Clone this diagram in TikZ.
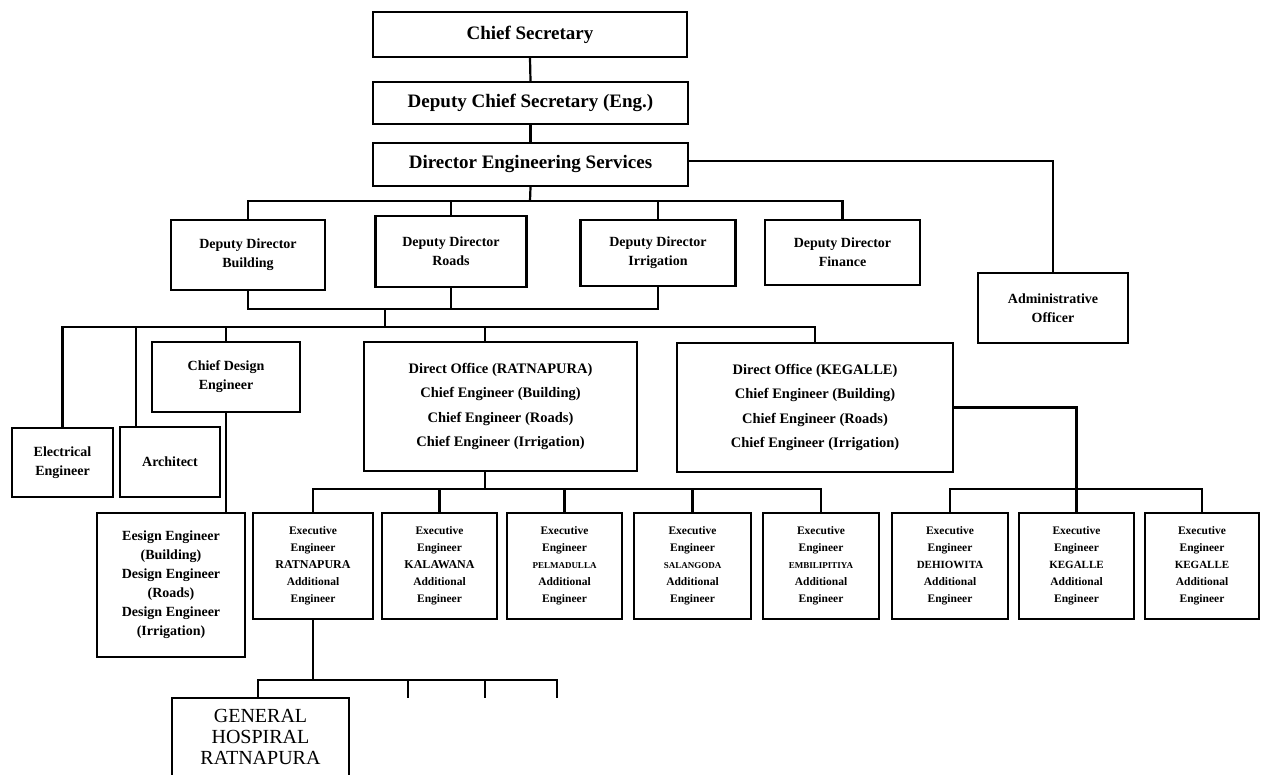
\documentclass[tikz,border=0pt]{standalone}
\usepackage{fontspec}
\setmainfont{Liberation Serif}
\begin{document}
\begin{tikzpicture}[x=1pt,y=-1pt,line width=2.2pt]
\tikzset{
  box/.style={draw,line width=2.2pt,inner sep=0pt,align=center},
  ft/.style={font=\fontsize{19}{24}\selectfont\bfseries},
  fm/.style={font=\fontsize{14}{19}\selectfont\bfseries},
  fo/.style={font=\fontsize{14.5}{24.5}\selectfont\bfseries},
  fe/.style={font=\fontsize{11.5}{17}\selectfont\bfseries},
  fg/.style={font=\fontsize{20}{21}\selectfont},
  exbox/.style={box,fe,minimum height=106},
}
\clip (0,0) rectangle (1262,775);
\fill[white] (0,0) rectangle (1262,775);

% top chain
\node[box,ft,minimum width=314,minimum height=45] (cs)  at (530,34.5) {Chief Secretary};
\node[box,ft,minimum width=315,minimum height=42] (dcs) at (530.5,103) {Deputy Chief Secretary (Eng.)};
\node[box,ft,minimum width=315,minimum height=43] (des) at (530.5,164.5) {Director Engineering Services};
\node[box,fm,minimum width=150,minimum height=70] (adm) at (1053,308) {Administrative\\Officer};

% deputy directors
\node[box,fm,minimum width=154,minimum height=70] (ddb) at (248,255) {Deputy Director\\Building};
\node[box,fm,minimum width=151,minimum height=71] (ddr) at (451,251.5) {Deputy Director\\Roads};
\node[box,fm,minimum width=155,minimum height=66] (ddi) at (658,253) {Deputy Director\\Irrigation};
\node[box,fm,minimum width=155,minimum height=65] (ddf) at (842.5,252.5) {Deputy Director\\Finance};

% third level
\node[box,fm,minimum width=148,minimum height=70] (cde) at (226,377) {Chief Design\\Engineer};
\node[box,fm,minimum width=101,minimum height=69] (ee) at (62.5,462.5) {Electrical\\Engineer};
\node[box,fm,minimum width=100,minimum height=70] (arch) at (170,462) {Architect};
\node[box,fm,minimum width=148,minimum height=144] (dsg) at (171,585) {Eesign Engineer\\(Building)\\Design Engineer\\(Roads)\\Design Engineer\\(Irrigation)};
\node[box,fo,minimum width=273,minimum height=129] (ro) at (500.5,406.5) {Direct Office (RATNAPURA)\\Chief Engineer (Building)\\Chief Engineer (Roads)\\Chief Engineer (Irrigation)};
\node[box,fo,minimum width=276,minimum height=129] (ko) at (815,407.5) {Direct Office (KEGALLE)\\Chief Engineer (Building)\\Chief Engineer (Roads)\\Chief Engineer (Irrigation)};

% executive engineers
\node[exbox,minimum width=120] (rat) at (313,566) {Executive\\Engineer\\{\fontsize{12}{17}\selectfont RATNAPURA}\\Additional\\Engineer};
\node[exbox,minimum width=115] (kal) at (439.5,566) {Executive\\Engineer\\{\fontsize{12}{17}\selectfont KALAWANA}\\Additional\\Engineer};
\node[exbox,minimum width=115] (pel) at (564.5,566) {Executive\\Engineer\\{\fontsize{9}{17}\selectfont PELMADULLA}\\Additional\\Engineer};
\node[exbox,minimum width=117] (sal) at (692.5,566) {Executive\\Engineer\\{\fontsize{9}{17}\selectfont SALANGODA}\\Additional\\Engineer};
\node[exbox,minimum width=116] (emb) at (821,566) {Executive\\Engineer\\{\fontsize{9}{17}\selectfont EMBILIPITIYA}\\Additional\\Engineer};
\node[exbox,minimum width=116] (deh) at (950,566) {Executive\\Engineer\\{\fontsize{11}{17}\selectfont DEHIOWITA}\\Additional\\Engineer};
\node[exbox,minimum width=115] (kg1) at (1076.5,566) {Executive\\Engineer\\{\fontsize{11}{17}\selectfont KEGALLE}\\Additional\\Engineer};
\node[exbox,minimum width=114] (kg2) at (1202,566) {Executive\\Engineer\\{\fontsize{11}{17}\selectfont KEGALLE}\\Additional\\Engineer};

% hospital
\node[box,minimum width=177,minimum height=110,anchor=north] (gh) at (260.5,697) {};
\node[fg,align=center,inner sep=0pt] (ghl) at (260.5,737) {GENERAL\\HOSPIRAL\\RATNAPURA};

% bus coordinates
\coordinate (b1) at (530,201);
\coordinate (b2) at (385,309);
\coordinate (b3) at (385,327);
\coordinate (b4) at (485,489);
\coordinate (b5) at (1076.5,489);
\coordinate (b6) at (313,680);
\coordinate (t1) at (408,698);
\coordinate (t2) at (485,698);
\coordinate (t3) at (557,698);

% connectors
\draw (cs.south) -- (dcs.north);
\draw (dcs.south) -- (des.north);
\draw ([yshift=3.5pt]des.east) -| (adm.north);
\draw (des.south) -- (b1);
\draw (ddb.north) |- (b1);
\draw (ddr.north) |- (b1);
\draw (ddi.north) |- (b1);
\draw (ddf.north) |- (b1);
\draw (ddb.south) |- (b2);
\draw (ddi.south) |- (b2);
\draw (ddr.south) -- (ddr.south |- b2);
\draw (b2) -- (b3);
\draw (b3) -| (ee.north);
\draw (b3) -| ([xshift=-34pt]arch.north);
\draw (b3) -| (cde.north);
\draw (b3) -| ([xshift=-15.5pt]ro.north);
\draw (b3) -| (ko.north);
\draw (cde.south) -- (cde.south |- dsg.north);
\draw ([xshift=-15.5pt]ro.south) -- (b4);
\draw (rat.north) |- (b4);
\draw (kal.north) |- (b4);
\draw (pel.north) |- (b4);
\draw (sal.north) |- (b4);
\draw (emb.north) |- (b4);
\draw (ko.east) -| (kg1.north);
\draw (deh.north) |- (b5);
\draw (kg2.north) |- (b5);
\draw (rat.south) -- (b6);
\draw ([xshift=-2.5pt]gh.north) |- (b6);
\draw (b6) -| (t3);
\draw (t1 |- b6) -- (t1);
\draw (t2 |- b6) -- (t2);
\end{tikzpicture}
\end{document}
